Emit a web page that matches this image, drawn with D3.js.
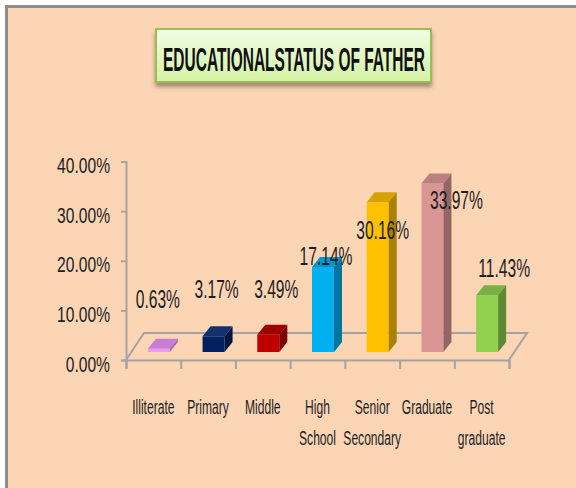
<!DOCTYPE html>
<html>
<head>
<meta charset="utf-8">
<script src="https://cdn.jsdelivr.net/npm/d3@7"></script>
<style>
  body { margin: 0; background: #fff; }
  svg text { font-family: "Liberation Sans", Arial, sans-serif; fill: #1e1e1e; }
</style>
</head>
<body>
<svg id="chart" width="576" height="488"></svg>
<script>
'use strict';

const categories = ['Illiterate', 'Primary', 'Middle', 'High School', 'Senior Secondary', 'Graduate', 'Post graduate'];
const categoryLines = [['Illiterate'], ['Primary'], ['Middle'], ['High', 'School'], ['Senior', 'Secondary'], ['Graduate'], ['Post', 'graduate']];
const values = [0.0063, 0.0317, 0.0349, 0.1714, 0.3016, 0.3397, 0.1143];
const yTicks = [0, 0.1, 0.2, 0.3, 0.4];
const titleText = 'EDUCATIONALSTATUS OF FATHER';

// front / top / side shades per bar
const frontColors = ['#e99bef', '#002060', '#c00000', '#00b0f0', '#ffc000', '#d99694', '#92d050'];
const topColors = ['#c77dd2', '#14306e', '#9c0000', '#0095cc', '#d6a200', '#b98180', '#78b042'];
const sideColors = ['#a868b0', '#00153f', '#7a0000', '#00759f', '#ab8100', '#936564', '#5f8a35'];

// hand placed data labels (dx, dy from the bar's top front centre)
const labelNudge = [[-1, -41], [3, -38], [8, -37], [3, -2], [5, 37], [24, 26], [17, -18]];

const svg = d3.select('#chart');
const width = +svg.attr('width');
const height = +svg.attr('height');
const axisGrey = '#a3a3a3';

// background + frame
svg.append('rect').attr('x', 5).attr('y', 5).attr('width', width - 5).attr('height', height - 5).attr('fill', '#8c8c8c');
svg.append('rect').attr('x', 8).attr('y', 8).attr('width', width - 8).attr('height', height - 8).attr('fill', '#fcd5b5');

const defs = svg.append('defs');
const grad = defs.append('linearGradient').attr('id', 'titleGrad').attr('x1', 0).attr('y1', 0).attr('x2', 0).attr('y2', 1);
grad.append('stop').attr('offset', '0%').attr('stop-color', '#f1fce6');
grad.append('stop').attr('offset', '100%').attr('stop-color', '#d4f3a2');
defs.append('filter').attr('id', 'shadow').attr('x', '-10%').attr('y', '-20%').attr('width', '120%').attr('height', '160%')
  .append('feDropShadow').attr('dx', 0).attr('dy', 4).attr('stdDeviation', 2)
  .attr('flood-color', '#6b5a4a').attr('flood-opacity', 0.6);

// title
svg.append('rect')
  .attr('x', 156).attr('y', 29).attr('width', 275).attr('height', 53)
  .attr('fill', 'url(#titleGrad)')
  .attr('stroke', '#9bbb59').attr('stroke-width', 2)
  .attr('filter', 'url(#shadow)');
const title = svg.append('text')
  .attr('text-anchor', 'middle')
  .style('font-size', '33px').style('font-weight', 'bold').style('fill', '#111')
  .text(titleText);
// squeeze the title to the width seen in the reference
const titleScale = 262 / title.node().getComputedTextLength();
title.attr('transform', `translate(294,71) scale(${titleScale},1)`);

// scales
const x = d3.scaleBand().domain(categories).range([126, 509]);
const xEdge = d3.scaleLinear().domain([0, categories.length]).range([126, 509]);
const y = d3.scaleLinear().domain([0, 0.4]).range([360, 161.5]);

const depth = { dx: 18, dy: -27 };        // floor depth
const bar = { w: 22, shift: 5.5, lift: 8, dx: 8, dy: -10 };

// floor
const floor = d3.path();
floor.moveTo(xEdge(0), y(0));
floor.lineTo(xEdge(0) + depth.dx, y(0) + depth.dy);
floor.lineTo(xEdge(categories.length) + depth.dx, y(0) + depth.dy);
floor.lineTo(xEdge(categories.length), y(0));
svg.append('path').attr('d', floor.toString()).attr('fill', 'none')
  .attr('stroke', axisGrey).attr('stroke-width', 2);

// y axis
const sxTick = 0.71;
const yAxis = svg.append('g')
  .attr('transform', `translate(${xEdge(0)},0)`)
  .call(d3.axisLeft(y).tickValues(yTicks).tickFormat(d3.format('.2%')).tickSizeOuter(0).tickSize(5));
yAxis.select('.domain').attr('stroke', axisGrey).attr('stroke-width', 2);
yAxis.selectAll('.tick line').attr('stroke', axisGrey).attr('stroke-width', 2);
yAxis.selectAll('.tick text')
  .attr('x', -16 / sxTick).attr('dy', '0.5em')
  .attr('transform', `scale(${sxTick},1)`)
  .style('font-size', '22px').style('font-family', null);

// x axis (edges only)
const xAxis = svg.append('g')
  .attr('transform', `translate(0,${y(0)})`)
  .call(d3.axisBottom(xEdge).tickValues(d3.range(categories.length + 1)).tickFormat('').tickSizeOuter(0).tickSize(9));
xAxis.select('.domain').attr('stroke', axisGrey).attr('stroke-width', 2);
xAxis.selectAll('.tick line').attr('stroke', axisGrey).attr('stroke-width', 2);

// bars
const bars = svg.append('g').selectAll('g.bar')
  .data(values)
  .join('g')
  .attr('class', 'bar');

const barLeft = (d, i) => x(categories[i]) + x.bandwidth() / 2 + bar.shift - bar.w / 2;
const barTop = d => y(d) - bar.lift;
const barBottom = y(0) - bar.lift;

bars.append('rect')
  .attr('x', barLeft)
  .attr('y', barTop)
  .attr('width', bar.w)
  .attr('height', d => barBottom - barTop(d))
  .attr('fill', (d, i) => frontColors[i]);

bars.append('path')
  .attr('d', (d, i) => {
    const l = barLeft(d, i), t = barTop(d);
    return `M${l},${t}L${l + bar.dx},${t + bar.dy}L${l + bar.w + bar.dx},${t + bar.dy}L${l + bar.w},${t}Z`;
  })
  .attr('fill', (d, i) => topColors[i]);

bars.append('path')
  .attr('d', (d, i) => {
    const r = barLeft(d, i) + bar.w, t = barTop(d);
    return `M${r},${t}L${r + bar.dx},${t + bar.dy}L${r + bar.dx},${barBottom + bar.dy}L${r},${barBottom}Z`;
  })
  .attr('fill', (d, i) => sideColors[i]);

// data labels
const sxData = 0.6;
svg.append('g').selectAll('text')
  .data(values)
  .join('text')
  .attr('text-anchor', 'middle')
  .attr('transform', (d, i) => {
    const cx = barLeft(d, i) + bar.w / 2 + labelNudge[i][0];
    const cy = barTop(d) + labelNudge[i][1];
    return `translate(${cx},${cy}) scale(${sxData},1)`;
  })
  .style('font-size', '26px')
  .text(d => d3.format('.2%')(d));

// category labels
const sxCat = 0.62;
const catText = svg.append('g').selectAll('text')
  .data(categoryLines)
  .join('text')
  .attr('text-anchor', 'middle')
  .attr('transform', (d, i) => `translate(${x(categories[i]) + x.bandwidth() / 2},414) scale(${sxCat},1)`)
  .style('font-size', '19.5px');

catText.selectAll('tspan')
  .data(d => d)
  .join('tspan')
  .attr('x', 0)
  .attr('y', (d, j) => j * 31)
  .text(d => d);
</script>
</body>
</html>
